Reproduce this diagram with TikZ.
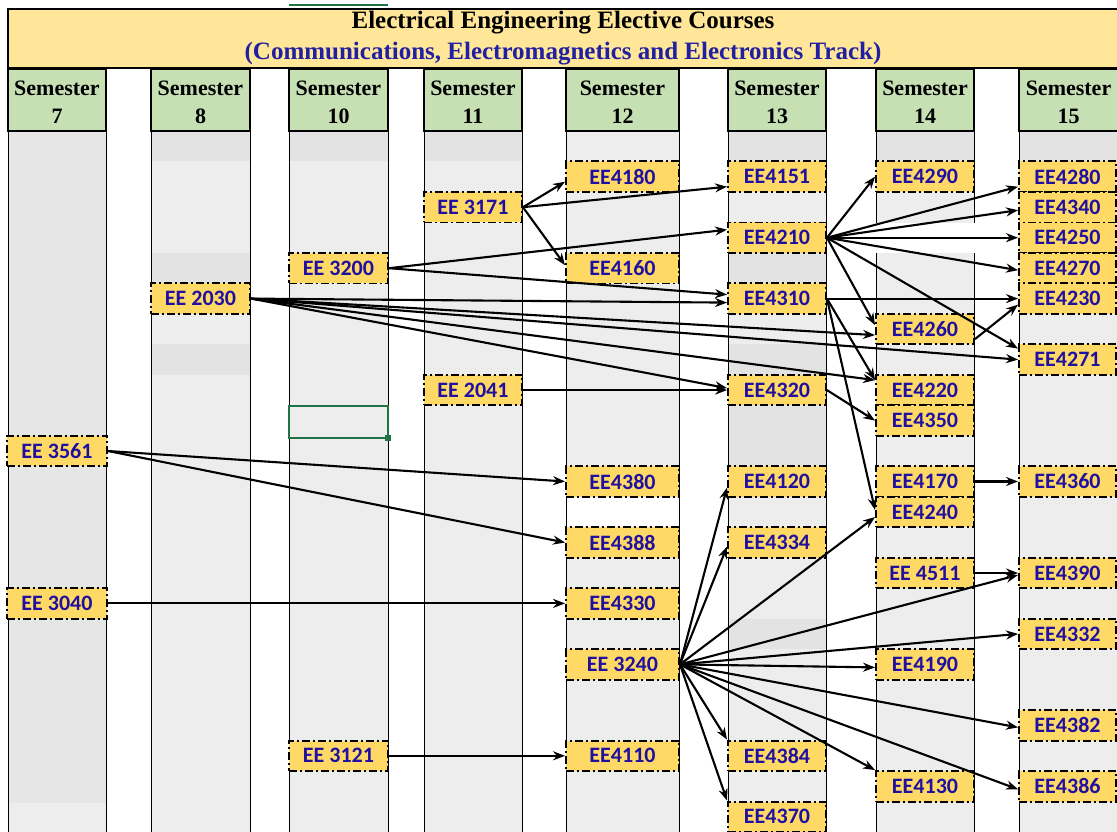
\documentclass[tikz,border=0pt]{standalone}
\usepackage{fontspec}
\setmainfont{Liberation Serif}
\newfontfamily\calfont{Carlito}
\usetikzlibrary{arrows.meta,calc}
\definecolor{titleband}{HTML}{FFE699}
\definecolor{hdrgreen}{HTML}{C6E0B4}
\definecolor{crsfill}{HTML}{FFD966}
\definecolor{crstext}{RGB}{32,16,160}
\definecolor{subblue}{RGB}{32,32,160}
\definecolor{colfill}{HTML}{EDEDED}
\definecolor{coldark}{HTML}{E3E3E3}
\definecolor{colseven}{HTML}{E7E6E6}
\definecolor{xlgreen}{HTML}{217346}
\begin{document}
\begin{tikzpicture}[x=1pt,y=-1pt,
  course/.style={draw=black, fill=crsfill, line width=1.9pt,
    dash pattern=on 8pt off 3pt on 2pt off 3pt,
    minimum height=30.5pt, inner sep=0pt,
    font=\calfont\bfseries\fontsize{22}{22}\selectfont, text=crstext},
  cA/.style={minimum width=100pt},
  cB/.style={minimum width=99pt},
  cC/.style={minimum width=98pt},
  cD/.style={minimum width=113pt},
  cE/.style={minimum width=97pt},
  hdr/.style={draw=black, line width=1.5pt, fill=hdrgreen},
  hdrtext/.style={font=\bfseries\fontsize{22}{22}\selectfont, inner sep=0pt},
  colborder/.style={line width=0.9pt, black},
  link/.style={line width=2.1pt, -{Stealth[length=12pt,width=9pt]}},
]
\useasboundingbox (0,0) rectangle (1117,832);
\fill[white] (0,0) rectangle (1117,832);

% ---- columns ----
\fill[colseven] (8,131) rectangle (106,803);
\fill[colfill] (8,803) rectangle (106,832);
\foreach \a/\b in {151/250,289/388,424/522,566/679,728/826,876/974,1019/1118}{
  \fill[colfill] (\a,131) rectangle (\b,832);
}
% darker bands
\fill[coldark] (151,131) rectangle (250,161.5);
\fill[coldark] (151,253) rectangle (250,283.4);
\fill[coldark] (151,344.4) rectangle (250,374.8);
\fill[coldark] (289,131) rectangle (388,161.5);
\fill[coldark] (424,131) rectangle (522,161.5);
\fill[coldark] (728,131) rectangle (826,161.5);
\fill[coldark] (728,253) rectangle (826,283.4);
\fill[coldark] (728,344.4) rectangle (826,374.8);
\fill[coldark] (728,405.3) rectangle (826,466.3);
\fill[coldark] (728,618.7) rectangle (826,649.2);
\fill[coldark] (876,131) rectangle (974,161.5);
\fill[coldark] (1019,131) rectangle (1118,161.5);
% white gaps
\fill[white] (566,496.8) rectangle (679,527.2);
\fill[white] (876,222.5) rectangle (974,253);
% column borders
\foreach \a/\b in {8/106,151/250,289/388,424/522,566/679,728/826}{
  \draw[colborder] (\a,131) -- (\a,832) (\b,131) -- (\b,832);
}
\draw[colborder] (876,131) -- (876,222.5) (974,131) -- (974,222.5);
\draw[colborder] (876,253) -- (876,832) (974,253) -- (974,832);
\draw[colborder] (1019,131) -- (1019,832);

% ---- excel selection marks ----
\draw[xlgreen, line width=2pt] (289,5) -- (388,5);
\draw[xlgreen, line width=1.5pt] (289,406) rectangle (388,438);
\fill[xlgreen] (385,435) rectangle (391,441);

% ---- title band ----
\draw[black, line width=1.5pt, fill=titleband] (8,9) rectangle (1118,68);
\node[font=\bfseries\fontsize{25}{25}\selectfont, inner sep=0pt] (title) at (563,23) {Electrical Engineering Elective Courses};
\node[font=\bfseries\fontsize{25}{25}\selectfont, text=subblue, inner sep=0pt] (subtitle) at (563,54) {(Communications, Electromagnetics and Electronics Track)};

% ---- semester headers ----
\foreach \a/\b/\n in {8/106/7,151/250/8,289/388/10,424/522/11,566/679/12,728/826/13,876/974/14,1019/1118/15}{
  \draw[hdr] (\a,69) rectangle (\b,131);
  \node[hdrtext] at ({(\a+\b)/2},88) {Semester};
  \node[hdrtext] at ({(\a+\b)/2},116) {\n};
}

% ---- courses ----
% semester 7
\node[course,cA] (n3561) at (57,451.0) {EE 3561};
\node[course,cA] (n3040) at (57,603.4) {EE 3040};
% semester 8
\node[course,cB] (n2030) at (200.5,298.6) {EE 2030};
% semester 10
\node[course,cB] (n3200) at (338.5,268.2) {EE 3200};
\node[course,cB] (n3121) at (338.5,755.8) {EE 3121};
% semester 11
\node[course,cC] (n3171) at (473,207.2) {EE 3171};
\node[course,cC] (n2041) at (473,390.1) {EE 2041};
% semester 12
\node[course,cD] (n4180) at (622.5,176.7) {EE4180};
\node[course,cD] (n4160) at (622.5,268.2) {EE4160};
\node[course,cD] (n4380) at (622.5,481.5) {EE4380};
\node[course,cD] (n4388) at (622.5,542.5) {EE4388};
\node[course,cD] (n4330) at (622.5,603.4) {EE4330};
\node[course,cD] (n3240) at (622.5,664.4) {EE 3240};
\node[course,cD] (n4110) at (622.5,755.8) {EE4110};
% semester 13
\node[course,cC] (n4151) at (777,176.7) {EE4151};
\node[course,cC] (n4210) at (777,237.7) {EE4210};
\node[course,cC] (n4310) at (777,298.6) {EE4310};
\node[course,cC] (n4320) at (777,390.1) {EE4320};
\node[course,cC] (n4120) at (777,481.5) {EE4120};
\node[course,cC] (n4334) at (777,542.5) {EE4334};
\node[course,cC] (n4384) at (777,755.8) {EE4384};
\node[course,cC] (n4370) at (777,816.8) {EE4370};
% semester 14
\node[course,cC] (n4290) at (925,176.7) {EE4290};
\node[course,cC] (n4260) at (925,329.1) {EE4260};
\node[course,cC] (n4220) at (925,390.1) {EE4220};
\node[course,cC] (n4350) at (925,420.6) {EE4350};
\node[course,cC] (n4170) at (925,481.5) {EE4170};
\node[course,cC] (n4240) at (925,512.0) {EE4240};
\node[course,cC] (n4511) at (925,573.0) {EE 4511};
\node[course,cC] (n4190) at (925,664.4) {EE4190};
\node[course,cC] (n4130) at (925,786.3) {EE4130};
% semester 15
\node[course,cE] (n4280) at (1067.5,176.7) {EE4280};
\node[course,cE] (n4340) at (1067.5,207.2) {EE4340};
\node[course,cE] (n4250) at (1067.5,237.7) {EE4250};
\node[course,cE] (n4270) at (1067.5,268.2) {EE4270};
\node[course,cE] (n4230) at (1067.5,298.6) {EE4230};
\node[course,cE] (n4271) at (1067.5,359.6) {EE4271};
\node[course,cE] (n4360) at (1067.5,481.5) {EE4360};
\node[course,cE] (n4390) at (1067.5,573.0) {EE4390};
\node[course,cE] (n4332) at (1067.5,633.9) {EE4332};
\node[course,cE] (n4382) at (1067.5,725.4) {EE4382};
\node[course,cE] (n4386) at (1067.5,786.3) {EE4386};

% ---- connectors ----
\draw[link] (n3171.east) -- ([yshift=-5pt]n4180.west);
\draw[link] (n3171.east) -- ([yshift=3pt]n4160.west);
\draw[link] (n3171.east) -- ([yshift=-10pt]n4151.west);
\draw[link] (n3200.east) -- ([yshift=8pt]n4210.west);
\draw[link] (n3200.east) -- ([yshift=4pt]n4310.west);
\draw[link] (n2030.east) -- ([yshift=-4pt]n4310.west);
\draw[link] (n2030.east) -- ([yshift=-6pt]n4260.west);
\draw[link] (n2030.east) -- (n4271.west);
\draw[link] (n2030.east) -- ([yshift=10pt]n4220.west);
\draw[link] (n2030.east) -- ([yshift=2pt]n4320.west);
\draw[link] (n2041.east) -- (n4320.west);
\draw[link] (n4210.east) -- (n4290.west);
\draw[link] (n4210.east) -- ([yshift=-10pt]n4280.west);
\draw[link] (n4210.east) -- ([yshift=-3pt]n4340.west);
\draw[link] (n4210.east) -- (n4250.west);
\draw[link] (n4210.east) -- ([yshift=-2pt]n4270.west);
\draw[link] (n4210.east) -- ([yshift=11pt]n4271.west);
\draw[link] (n4210.east) -- ([yshift=4pt]n4260.west);
\draw[link] (n4310.east) -- (n4230.west);
\draw[link] (n4310.east) -- ([yshift=10pt]n4220.west);
\draw[link] (n4310.east) -- ([yshift=2pt]n4240.west);
\draw[link] (n4320.east) -- (n4350.west);
\draw[link] ([yshift=-10pt]n4260.east) -- ([yshift=-6pt]n4230.west);
\draw[link] (n4170.east) -- (n4360.west);
\draw[link] (n4511.east) -- (n4390.west);
\draw[link] (n3561.east) -- (n4380.west);
\draw[link] (n3561.east) -- (n4388.west);
\draw[link] (n3040.east) -- (n4330.west);
\draw[link] (n3121.east) -- (n4110.west);
\draw[link] (n3240.east) -- ([yshift=-6pt]n4120.west);
\draw[link] (n3240.east) -- ([yshift=-4pt]n4334.west);
\draw[link] (n3240.east) -- ([yshift=-5pt]n4240.west);
\draw[link] (n3240.east) -- ([yshift=-2pt]n4390.west);
\draw[link] (n3240.east) -- (n4332.west);
\draw[link] (n3240.east) -- ([yshift=-3pt]n4190.west);
\draw[link] (n3240.east) -- ([yshift=-2pt]n4382.west);
\draw[link] (n3240.east) -- ([yshift=-3pt]n4386.west);
\draw[link] (n3240.east) -- (n4130.north west);
\draw[link] (n3240.east) -- (n4384.north west);
\draw[link] (n3240.east) -- (n4370.north west);
\end{tikzpicture}
\end{document}
